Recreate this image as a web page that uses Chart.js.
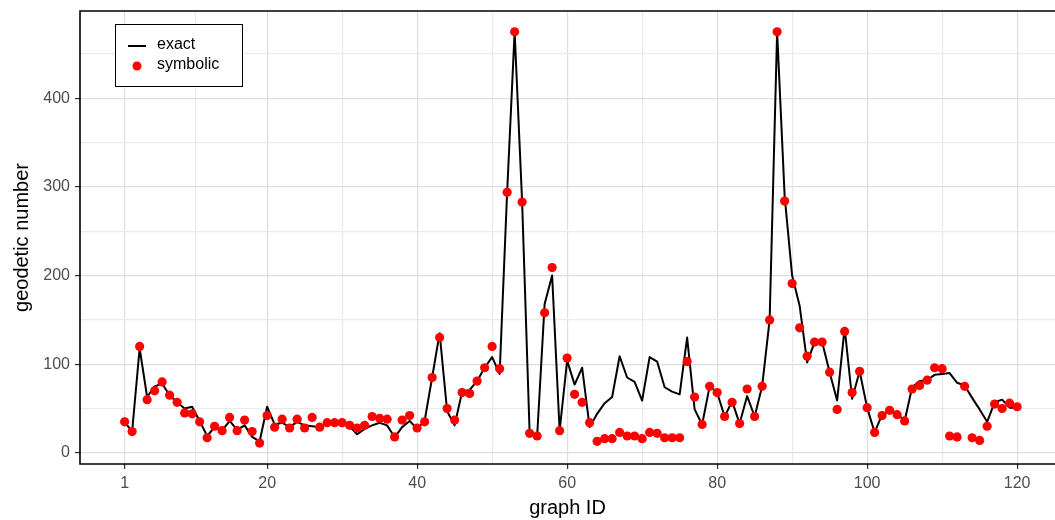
<!DOCTYPE html>
<html>
<head>
<meta charset="utf-8">
<script src="https://cdn.jsdelivr.net/npm/chart.js@4.4.1/dist/chart.umd.min.js"></script>
<style>
  html, body { margin: 0; padding: 0; background: #fff; overflow: hidden; }
  #chart { display: block; }
</style>
</head>
<body>
<canvas id="chart" width="1055" height="520"></canvas>
<script>
// graph IDs 1..120 (categories)
const graphIds = Array.from({ length: 120 }, (_, i) => i + 1);

const exactValues = [
  35, 24, 118, 63, 75, 78, 65, 57, 50, 52,
  36, 19, 29, 25, 36, 26, 31, 18, 13, 52,
  32, 34, 29, 35, 31, 30, 29, 34, 34, 34,
  30, 21, 27, 31, 34, 31, 17.5, 29, 36, 27,
  36, 85, 135, 47, 31, 69, 71, 81, 96, 108,
  89, 294, 475, 283, 22, 18.5, 168, 200, 25, 104,
  77, 96, 29, 44, 56, 63, 109, 85, 80, 59,
  108, 103, 74, 69, 66, 130, 49, 32, 75, 68,
  41, 58, 33, 64, 41, 75, 150, 475, 290, 200,
  166, 102, 125, 125, 91, 59, 141, 61, 92, 51,
  23, 43, 48, 44, 36, 74, 81, 82, 88, 89,
  90, 79, 76, 62, 49, 35, 57, 60, 51, 51
];

const symbolicValues = [
  35, 24, 120, 60, 70, 80, 65, 57, 45, 44,
  35, 17, 30, 25, 40, 25, 37, 24, 11, 42,
  29, 38, 28, 38, 28, 40, 29, 34, 34, 34,
  31, 28, 31, 41, 39, 38, 18, 37, 42, 28,
  35, 85, 130, 50, 37, 68, 67, 81, 96, 120,
  95, 294, 475, 283, 22, 19, 158, 209, 25, 107,
  66, 57, 34, 13, 16, 16, 23, 19, 19, 16,
  23, 22, 17, 17, 17, 103, 63, 32, 75, 68,
  41, 57, 33, 72, 41, 75, 150, 475, 284, 191,
  141, 109, 125, 125, 91, 49, 137, 68, 92, 51,
  23, 42, 48, 43, 36, 72, 76, 82, 96, 95,
  19, 18, 75, 17, 14, 30, 55, 50, 56, 52
];

const xMajorTicks = [1, 20, 40, 60, 80, 100, 120];
const xMinorTicks = [10.5, 30, 50, 70, 90, 110];
const yMajorTicks = [0, 100, 200, 300, 400];
const yMinorTicks = [50, 150, 250, 350, 450];

const FONT = '"Liberation Sans", Arial, Helvetica, sans-serif';
const MAJOR_GRID = '#dedede';
const MINOR_GRID = '#ebebeb';

function toTicks(major, minor) {
  return major.concat(minor).sort((a, b) => a - b).map((v) => ({ value: v }));
}

// no extra room for edge labels: the panel is placed by layout.padding only
function noEdgePadding(s) {
  s.paddingTop = 0;
  s.paddingBottom = 0;
  s.paddingLeft = 0;
  s.paddingRight = 0;
}

// black frame (the right edge runs off the page) + legend inside the panel
const panelFrame = {
  id: 'panelFrame',
  afterDraw(chart) {
    const { ctx, chartArea: a } = chart;
    ctx.save();
    ctx.strokeStyle = '#000';
    ctx.lineWidth = 1.6;
    ctx.beginPath();
    ctx.moveTo(a.right + 10, a.top);
    ctx.lineTo(a.left, a.top);
    ctx.lineTo(a.left, a.bottom);
    ctx.lineTo(a.right + 10, a.bottom);
    ctx.stroke();

    const bx = a.left + 35;
    const by = a.top + 13;
    ctx.fillStyle = '#fff';
    ctx.fillRect(bx, by, 127, 62);
    ctx.lineWidth = 1;
    ctx.strokeRect(bx + 0.5, by + 0.5, 127, 62);

    const sets = chart.data.datasets;
    const lineSet = sets.find((d) => d.showLine !== false);
    const pointSet = sets.find((d) => d.showLine === false);

    ctx.font = '16px ' + FONT;
    ctx.textBaseline = 'middle';
    ctx.fillStyle = '#000';

    ctx.strokeStyle = lineSet.borderColor;
    ctx.lineWidth = 2;
    ctx.beginPath();
    ctx.moveTo(bx + 13, by + 22);
    ctx.lineTo(bx + 31, by + 22);
    ctx.stroke();
    ctx.fillText(lineSet.label, bx + 42, by + 21);

    ctx.fillStyle = pointSet.backgroundColor;
    ctx.beginPath();
    ctx.arc(bx + 22, by + 42, 4.5, 0, Math.PI * 2);
    ctx.fill();
    ctx.fillStyle = '#000';
    ctx.fillText(pointSet.label, bx + 42, by + 41);
    ctx.restore();
  }
};

new Chart(document.getElementById('chart'), {
  type: 'line',
  plugins: [panelFrame],
  data: {
    datasets: [
      {
        label: 'symbolic',
        data: graphIds.map((id, i) => ({ x: id, y: symbolicValues[i] })),
        showLine: false,
        pointRadius: 4.6,
        pointHoverRadius: 4.6,
        pointBorderWidth: 0,
        backgroundColor: '#ff0000',
        borderColor: '#ff0000',
      },
      {
        label: 'exact',
        data: graphIds.map((id, i) => ({ x: id, y: exactValues[i] })),
        borderColor: '#000',
        borderWidth: 2,
        borderJoinStyle: 'round',
        pointRadius: 0,
        tension: 0,
        fill: false,
      },
    ],
  },
  options: {
    responsive: false,
    animation: false,
    events: [],
    layout: { autoPadding: false, padding: { top: 11, right: 0, left: 0, bottom: 0 } },
    plugins: {
      legend: { display: false },
      tooltip: { enabled: false },
    },
    scales: {
      x: {
        type: 'linear',
        min: -4.95,
        max: 125.05,
        afterBuildTicks: (s) => { s.ticks = toTicks(xMajorTicks, xMinorTicks); },
        afterFit: (s) => { s.height = 56; noEdgePadding(s); },
        border: { display: false },
        grid: {
          color: (c) => (xMajorTicks.includes(c.tick.value) ? MAJOR_GRID : MINOR_GRID),
          lineWidth: 1.2,
          tickLength: 5,
          tickColor: (c) => (xMajorTicks.includes(c.tick.value) ? '#333' : 'rgba(0,0,0,0)'),
        },
        ticks: {
          autoSkip: false,
          maxRotation: 0,
          padding: 5,
          color: '#4d4d4d',
          font: { size: 16, family: FONT },
          callback: (v) => (xMajorTicks.includes(v) ? String(v) : ''),
        },
        title: {
          display: true,
          text: 'graph ID',
          color: '#000',
          font: { size: 20, family: FONT },
          padding: { top: 0, bottom: 0 },
        },
      },
      y: {
        type: 'linear',
        min: -12.6,
        max: 498.5,
        afterBuildTicks: (s) => { s.ticks = toTicks(yMajorTicks, yMinorTicks); },
        afterFit: (s) => { s.width = 80; noEdgePadding(s); },
        border: { display: false },
        grid: {
          color: (c) => (yMajorTicks.includes(c.tick.value) ? MAJOR_GRID : MINOR_GRID),
          lineWidth: 1.2,
          tickLength: 5,
          tickColor: (c) => (yMajorTicks.includes(c.tick.value) ? '#333' : 'rgba(0,0,0,0)'),
        },
        ticks: {
          autoSkip: false,
          padding: 5,
          color: '#4d4d4d',
          font: { size: 16, family: FONT },
          callback: (v) => (yMajorTicks.includes(v) ? String(v) : ''),
        },
        title: {
          display: true,
          text: 'geodetic number',
          color: '#000',
          font: { size: 20, family: FONT },
          padding: { top: 10, bottom: 0 },
        },
      },
    },
  },
});
</script>
</body>
</html>
